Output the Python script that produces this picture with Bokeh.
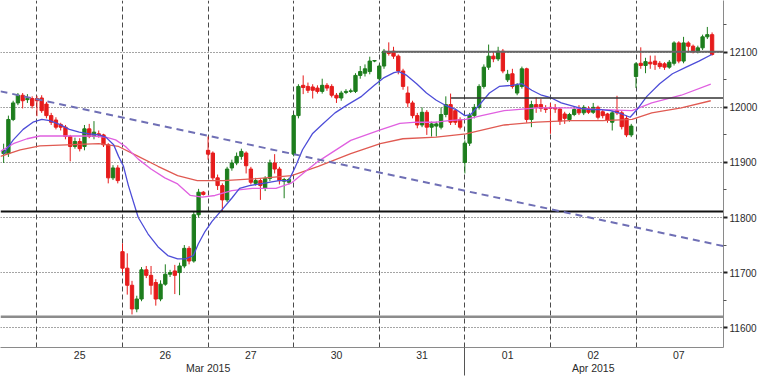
from bokeh.plotting import figure
from bokeh.models import Range1d, LinearAxis, FixedTicker, ColumnDataSource
from bokeh.embed import file_html
from bokeh.resources import INLINE

# ---------------- data ----------------
session_names = ["24", "25", "26", "27", "30", "31", "01", "02", "07"]
session_bars = [7, 18, 18, 18, 18, 18, 18, 18, 17]
bars_per_day = 18

day_labels = ["25", "26", "27", "30", "31", "01", "02", "07"]
month_labels = ["Mar 2015", "Apr 2015"]
month_label_pos = [36, 117]
month_divider = [90]

opens = [
    11916, 11916, 11978, 12008, 12022, 12014, 12016,
    12016, 12017, 12006, 11985, 11977, 11969, 11964, 11947, 11929, 11938, 11929, 11961, 11947, 11952, 11950, 11932, 11872, 11890,
    11738, 11708, 11677, 11634, 11652, 11705, 11695, 11682, 11652, 11679, 11697, 11703, 11700, 11712, 11744, 11721, 11805, 11846,
    11922, 11917, 11872, 11858, 11832, 11890, 11899, 11911, 11917, 11888, 11862, 11867, 11853, 11871, 11899, 11888, 11866, 11864,
    11915, 11985, 12040, 12038, 12037, 12035, 12029, 12040, 12038, 12022, 12017, 12027, 12029, 12029, 12058, 12062, 12065, 12084,
    12052, 12075, 12100, 12102, 12093, 12066, 12026, 12008, 11985, 11968, 11991, 11964, 11966, 11964, 11987, 12005, 11994, 11978,
    11900, 11935, 11985, 12000, 12038, 12073, 12093, 12088, 12102, 12050, 12061, 12026, 12038, 12070, 11978, 12005, 12005, 11998,
    12000, 11999, 11997, 11988, 11978, 11987, 11996, 11990, 11998, 11991, 12000, 11992, 11988, 11973, 11994, 11990, 11980, 11950,
    12056, 12080, 12076, 12082, 12084, 12080, 12079, 12073, 12080, 12117, 12084, 12117, 12111, 12101, 12108, 12128, 12132,
]
highs = [
    11934, 11985, 12012, 12026, 12026, 12024, 12020,
    12021, 12022, 12010, 11990, 11982, 11972, 11968, 11950, 11945, 11944, 11968, 11970, 11975, 11958, 11952, 11935, 11895, 11895,
    11753, 11735, 11685, 11658, 11710, 11712, 11712, 11688, 11686, 11715, 11705, 11714, 11718, 11750, 11748, 11810, 11852, 11848,
    11947, 11920, 11878, 11862, 11892, 11905, 11918, 11925, 11920, 11892, 11872, 11870, 11875, 11905, 11915, 11892, 11872, 11872,
    11988, 12042, 12058, 12045, 12042, 12040, 12052, 12044, 12042, 12026, 12030, 12033, 12034, 12062, 12075, 12078, 12092, 12086,
    12078, 12106, 12118, 12110, 12096, 12070, 12038, 12012, 11990, 12000, 11995, 11974, 11974, 12000, 12020, 12025, 11998, 11982,
    11940, 11990, 12006, 12042, 12078, 12114, 12100, 12110, 12106, 12068, 12070, 12044, 12074, 12072, 12012, 12018, 12015, 12004,
    12008, 12006, 12000, 11992, 11990, 12000, 12004, 12004, 12002, 12008, 12003, 11996, 11990, 11994, 12021, 11994, 11985, 11970,
    12082, 12109, 12090, 12094, 12094, 12084, 12082, 12086, 12120, 12120, 12128, 12120, 12114, 12112, 12132, 12146, 12136,
]
lows = [
    11899, 11910, 11975, 12004, 11998, 12008, 11998,
    11984, 11990, 11980, 11968, 11960, 11958, 11942, 11902, 11925, 11920, 11922, 11944, 11942, 11945, 11928, 11862, 11868, 11862,
    11700, 11660, 11624, 11628, 11648, 11690, 11660, 11640, 11648, 11676, 11692, 11661, 11659, 11708, 11715, 11718, 11800, 11840,
    11905, 11868, 11850, 11811, 11828, 11885, 11895, 11905, 11880, 11860, 11858, 11832, 11848, 11866, 11880, 11860, 11835, 11860,
    11911, 11980, 12024, 12026, 12016, 12025, 12025, 12030, 12018, 12008, 12012, 12024, 12026, 12026, 12052, 12056, 12060, 12082,
    12040, 12070, 12094, 12088, 12060, 12032, 12000, 11980, 11962, 11964, 11950, 11947, 11947, 11960, 11982, 11968, 11968, 11960,
    11880, 11930, 11980, 11996, 12034, 12068, 12082, 12084, 12062, 12046, 12034, 12022, 12034, 11972, 11964, 11990, 11992, 11990,
    11952, 11990, 11968, 11970, 11974, 11984, 11986, 11986, 11988, 11988, 11978, 11980, 11972, 11958, 11986, 11960, 11946, 11946,
    12035, 12070, 12062, 12070, 12068, 12070, 12068, 12070, 12076, 12080, 12080, 12102, 12098, 12098, 12104, 12124, 12094,
]
closes = [
    11922, 11978, 12008, 12022, 12012, 12016, 12003,
    12012, 11994, 11985, 11973, 11964, 11964, 11947, 11929, 11938, 11925, 11961, 11947, 11955, 11950, 11932, 11872, 11890, 11867,
    11708, 11677, 11634, 11652, 11705, 11695, 11677, 11652, 11679, 11697, 11700, 11695, 11712, 11744, 11721, 11805, 11846, 11842,
    11915, 11872, 11858, 11832, 11888, 11899, 11911, 11920, 11894, 11864, 11867, 11858, 11871, 11899, 11888, 11867, 11869, 11869,
    11985, 12038, 12036, 12031, 12031, 12029, 12040, 12035, 12022, 12017, 12026, 12029, 12030, 12058, 12065, 12070, 12084, 12085,
    12075, 12102, 12098, 12093, 12066, 12038, 12008, 11985, 11968, 11991, 11964, 11970, 11970, 11987, 12005, 11973, 11973, 11964,
    11935, 11985, 12000, 12038, 12073, 12093, 12088, 12102, 12066, 12060, 12038, 12040, 12070, 11978, 12005, 12000, 11998, 11996,
    11998, 11997, 11975, 11980, 11987, 11996, 11990, 12000, 11991, 12000, 11982, 11985, 11977, 11990, 11990, 11965, 11950, 11966,
    12079, 12076, 12083, 12079, 12078, 12074, 12073, 12082, 12117, 12084, 12117, 12111, 12101, 12108, 12128, 12132, 12096,
]

# moving averages (x in bar units, price)
blue_x = [-7.03, -4.97, -2.90, -0.83, 1.03, 2.69, 4.76, 6.83, 8.90, 10.97, 13.03, 14.48, 16.14, 17.17, 18.21,
          19.24, 21.31, 23.38, 25.45, 27.52, 29.59, 31.24, 32.90, 33.93, 35.38, 36.83, 38.90, 40.97, 42.62,
          44.69, 48.21, 50.90, 52.97, 54.41, 55.86, 57.93, 60.00, 62.69, 65.38, 68.28, 70.97, 73.03, 75.10,
          76.14, 77.79, 79.86, 81.93, 84.00, 86.07, 88.14, 90.00, 91.24, 93.10, 95.17, 97.24, 99.93, 102.0,
          104.07, 106.14, 108.21, 110.28, 112.34, 114.41, 116.48, 118.55, 120.62, 122.69, 124.76, 126.21,
          128.28, 130.97, 133.66, 136.55, 139.24, 141.93]
blue_y = [11916, 11941, 11960, 11973, 11978, 11976, 11969, 11960, 11955, 11952, 11950, 11946, 11932, 11911, 11893,
          11858, 11800, 11770, 11747, 11731, 11725, 11725, 11731, 11752, 11775, 11793, 11814, 11835, 11853,
          11858, 11863, 11867, 11867, 11893, 11923, 11952, 11969, 11990, 12005, 12020, 12040, 12054, 12063,
          12065, 12058, 12043, 12026, 12013, 12003, 11996, 11985, 11987, 12005, 12026, 12038, 12040, 12043,
          12031, 12022, 12017, 12008, 12003, 11998, 11996, 11996, 11994, 11989, 11982, 11996,
          12020, 12043, 12061, 12073, 12084, 12096]
mag_x = [-7.66, -4.97, -2.07, 0.62, 6.21, 11.59, 14.48, 16.55, 18.62, 21.31, 24.0, 26.9, 29.59, 32.28, 34.76,
         37.45, 40.97, 45.31, 50.28, 53.59, 57.10, 59.17, 66.0, 72.21, 76.34, 79.86, 84.0, 86.69, 90.21,
         93.52, 98.28, 105.1, 112.14, 118.97, 125.17, 129.31, 135.52, 141.72]
mag_y = [11920, 11934, 11943, 11948, 11948, 11948, 11946, 11941, 11929, 11906, 11888, 11872, 11861, 11840, 11837,
         11840, 11849, 11853, 11853, 11863, 11888, 11902, 11940, 11959, 11971, 11973, 11973, 11976, 11978,
         11985, 11994, 11999, 11999, 11996, 11994, 12008, 12022, 12042]
red_x = [-7.66, -3.52, 0.62, 6.21, 13.03, 17.17, 21.31, 25.45, 29.59, 33.72, 39.31, 45.31, 53.59, 59.17, 66.0,
         72.21, 76.97, 84.0, 90.21, 98.28, 105.1, 112.14, 118.97, 125.17, 129.31, 135.52, 141.72]
red_y = [11911, 11923, 11930, 11932, 11934, 11929, 11911, 11893, 11876, 11867, 11867, 11870, 11876, 11893, 11916,
         11934, 11943, 11946, 11952, 11968, 11973, 11976, 11976, 11978, 11990, 11999, 12012]

trend_x = [-7.66, 144.4]
trend_y = [12029, 11748]

level_price = [12101, 12017, 11811, 11620]
level_start = [72.8, 87.1, -7.66, -7.66]
level_end = [144.4, 144.4, 144.4, 144.4]

price_ticks = [11600, 11700, 11800, 11900, 12000, 12100]
price_minor = [11650, 11750, 11850, 11950, 12050, 12150]

# ---------------- build ----------------
xs = []
for s, n in enumerate(session_bars):
    if s == 0:
        xs += [k - n for k in range(n)]
    else:
        xs += [(s - 1) * bars_per_day + k for k in range(n)]

UP, DOWN = "#1d7d1d", "#e61c1c"
colors = [UP if c >= o else DOWN for o, c in zip(opens, closes)]
src = ColumnDataSource(dict(
    x=xs, open=opens, high=highs, low=lows, close=closes,
    top=[max(o, c) for o, c in zip(opens, closes)],
    bottom=[min(o, c) for o, c in zip(opens, closes)],
    color=colors,
))

x_lo, x_hi = -7.66, 144.4
p = figure(width=760, height=376,
           x_range=Range1d(x_lo, x_hi), y_range=Range1d(11564, 12194),
           y_axis_location="right", output_backend="svg", toolbar_location=None,
           min_border=0, outline_line_color=None,
           background_fill_color="white", border_fill_color="white")

FONT = "Liberation Sans"
TXT = "#2b2b2b"

# grids
boundaries = [d * bars_per_day for d in range(len(day_labels))]
p.xgrid.ticker = FixedTicker(ticks=boundaries)
p.xgrid.grid_line_color = "#4a4a4a"
p.xgrid.grid_line_dash = "5 3"
p.xgrid.grid_line_width = 1
p.ygrid.ticker = FixedTicker(ticks=price_ticks)
p.ygrid.grid_line_color = "#4a4a4a"
p.ygrid.grid_line_dash = "1 2"
p.ygrid.grid_line_width = 1

# right price axis
ya = p.yaxis[0]
ya.ticker = FixedTicker(ticks=price_ticks, minor_ticks=price_minor)
ya.axis_line_color = "#8a8a8a"
ya.major_tick_in = 0
ya.major_tick_out = 4
ya.major_tick_line_width = 2
ya.major_tick_line_color = "#222222"
ya.minor_tick_in = 0
ya.minor_tick_out = 3
ya.minor_tick_line_color = "#555555"
ya.major_label_standoff = 2
ya.major_label_text_font = FONT
ya.major_label_text_font_size = "10px"
ya.major_label_text_color = TXT

# day axis (minor tick = month divider reaching down through both label rows)
label_ticks = [d * bars_per_day + 9 for d in range(len(day_labels))]
xa = p.xaxis[0]
xa.ticker = FixedTicker(ticks=label_ticks, minor_ticks=month_divider)
xa.major_label_overrides = {t: lab for t, lab in zip(label_ticks, day_labels)}
xa.major_tick_line_color = None
xa.major_tick_in = 0
xa.major_tick_out = 0
xa.minor_tick_in = 0
xa.minor_tick_out = 28
xa.minor_tick_line_color = "#555555"
xa.axis_line_color = "#8a8a8a"
xa.major_label_standoff = -25
xa.major_label_text_font = FONT
xa.major_label_text_font_size = "10.5px"
xa.major_label_text_color = TXT

# month axis
ma = LinearAxis(ticker=FixedTicker(ticks=month_label_pos))
ma.major_label_overrides = {t: lab for t, lab in zip(month_label_pos, month_labels)}
ma.axis_line_color = None
ma.major_tick_line_color = None
ma.minor_tick_line_color = None
ma.major_tick_in = 0
ma.major_tick_out = 0
ma.minor_tick_in = 0
ma.minor_tick_out = 0
ma.major_label_standoff = 0
ma.major_label_text_font = FONT
ma.major_label_text_font_size = "10.5px"
ma.major_label_text_color = TXT
p.add_layout(ma, "below")

# candles
p.segment(x0="x", y0="high", x1="x", y1="low", line_color="color", line_width=1, source=src)
p.vbar(x="x", width=0.7, top="top", bottom="bottom", fill_color="color",
       line_color="color", line_width=1, source=src)

# moving averages
p.line(red_x, red_y, line_color="#e05a52", line_width=1.3)
p.line(mag_x, mag_y, line_color="#e060e0", line_width=1.3)
p.line(blue_x, blue_y, line_color="#4d4dd8", line_width=1.3)

# horizontal levels
p.segment(x0=level_start, y0=level_price, x1=level_end, y1=level_price,
          line_color=["#666666", "#333333", "#111111", "#8c8c8c"],
          line_width=[2, 1.5, 2, 2.5])

# trend line
p.line(trend_x, trend_y, line_color="#6f6fb5", line_width=2, line_dash="7 5")

open("out.html", "w").write(file_html(p, INLINE))
